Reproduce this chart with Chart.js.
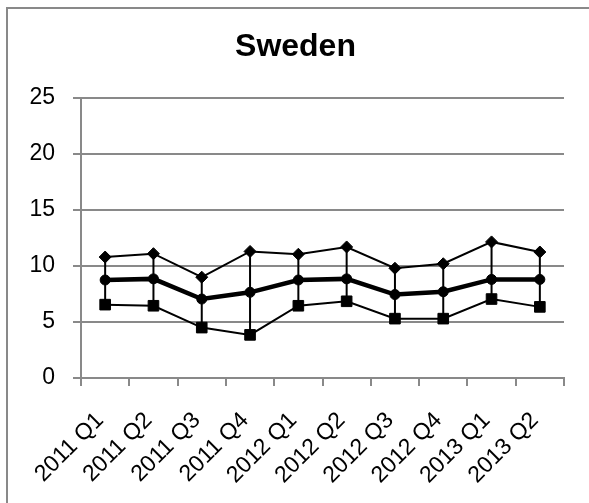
<!DOCTYPE html>
<html>
<head>
<meta charset="utf-8">
<script src="https://cdn.jsdelivr.net/npm/chart.js@4"></script>
<style>
  html, body { margin: 0; padding: 0; background: #fff; }
  #wrap { position: relative; width: 589px; height: 503px; overflow: hidden; }
  #frame { position: absolute; left: 6px; top: 7px; width: 700px; height: 700px; border: 2px solid #898989; }
  #chart { position: absolute; left: 0; top: 0; }
</style>
</head>
<body>
<div id="wrap">
  <div id="frame"></div>
  <canvas id="chart" width="589" height="503"></canvas>
</div>
<script>
// quarters on the x axis
const quarters = ["2011 Q1", "2011 Q2", "2011 Q3", "2011 Q4", "2012 Q1",
                  "2012 Q2", "2012 Q3", "2012 Q4", "2013 Q1", "2013 Q2"];

// upper band (diamonds), middle (circles, thick), lower band (squares)
const highVals = [10.8, 11.1, 9.0, 11.3, 11.05, 11.7, 9.8, 10.2, 12.15, 11.25];
const midVals  = [8.75, 8.85, 7.05, 7.65, 8.75, 8.85, 7.45, 7.7, 8.8, 8.8];
const lowVals  = [6.55, 6.45, 4.5, 3.85, 6.45, 6.85, 5.3, 5.3, 7.05, 6.35];

const yTicks = [0, 5, 10, 15, 20, 25];

const gridGray = "#898989";
const fontFam = "'Liberation Sans', Arial, sans-serif";

// vertical high-low bars drawn from the data through the scales
const hiLoBars = {
    id: "hiLoBars",
    beforeDatasetsDraw(chart) {
        const ctx = chart.ctx;
        const xs = chart.scales.x;
        const ys = chart.scales.y;
        ctx.save();
        ctx.strokeStyle = "#000";
        ctx.lineWidth = 2;
        for (let i = 0; i < quarters.length; i++) {
            const x = xs.getPixelForValue(i);
            ctx.beginPath();
            ctx.moveTo(x, ys.getPixelForValue(highVals[i]));
            ctx.lineTo(x, ys.getPixelForValue(lowVals[i]));
            ctx.stroke();
        }
        ctx.restore();
    },
};

new Chart(document.getElementById("chart"), {
    type: "line",
    data: {
        labels: quarters,
        datasets: [
            {
                label: "High",
                data: highVals,
                borderColor: "#000",
                backgroundColor: "#000",
                borderWidth: 2,
                pointStyle: "rectRot",
                pointRadius: 6,
                pointBorderWidth: 1,
                tension: 0,
            },
            {
                label: "Mid",
                data: midVals,
                borderColor: "#000",
                backgroundColor: "#000",
                borderWidth: 4.5,
                pointStyle: "circle",
                pointRadius: 5,
                pointBorderWidth: 1,
                tension: 0,
            },
            {
                label: "Low",
                data: lowVals,
                borderColor: "#000",
                backgroundColor: "#000",
                borderWidth: 2,
                pointStyle: "rect",
                pointRadius: 7.5,
                pointBorderWidth: 1,
                tension: 0,
            },
        ],
    },
    options: {
        responsive: false,
        animation: false,
        layout: { padding: { left: 27, right: 25, top: 0, bottom: 0 } },
        plugins: {
            legend: { display: false },
            tooltip: { enabled: false },
            title: {
                display: true,
                text: "Sweden",
                color: "#000",
                font: { family: fontFam, size: 32, weight: "bold" },
                padding: { top: 28, bottom: 31.6 },
            },
        },
        scales: {
            x: {
                offset: true,
                grid: {
                    offset: true,
                    drawOnChartArea: false,
                    drawTicks: true,
                    tickLength: 8,
                    color: gridGray,
                    lineWidth: 2,
                },
                border: { color: gridGray, width: 2 },
                ticks: {
                    color: "#000",
                    font: { family: fontFam, size: 23 },
                    minRotation: 45,
                    maxRotation: 45,
                    autoSkip: false,
                    padding: 21,
                    labelOffset: -5,
                },
                afterFit(scale) { scale.height = 125; },
            },
            y: {
                min: yTicks[0],
                max: yTicks[yTicks.length - 1],
                afterBuildTicks(scale) { scale.ticks = yTicks.map(v => ({ value: v })); },
                grid: {
                    color: gridGray,
                    lineWidth: 2,
                    tickLength: 8,
                },
                border: { color: gridGray, width: 2 },
                ticks: {
                    color: "#000",
                    font: { family: fontFam, size: 23 },
                    padding: 18,
                },
                afterFit(scale) { scale.width = 54; },
            },
        },
    },
    plugins: [hiLoBars],
});
</script>
</body>
</html>
